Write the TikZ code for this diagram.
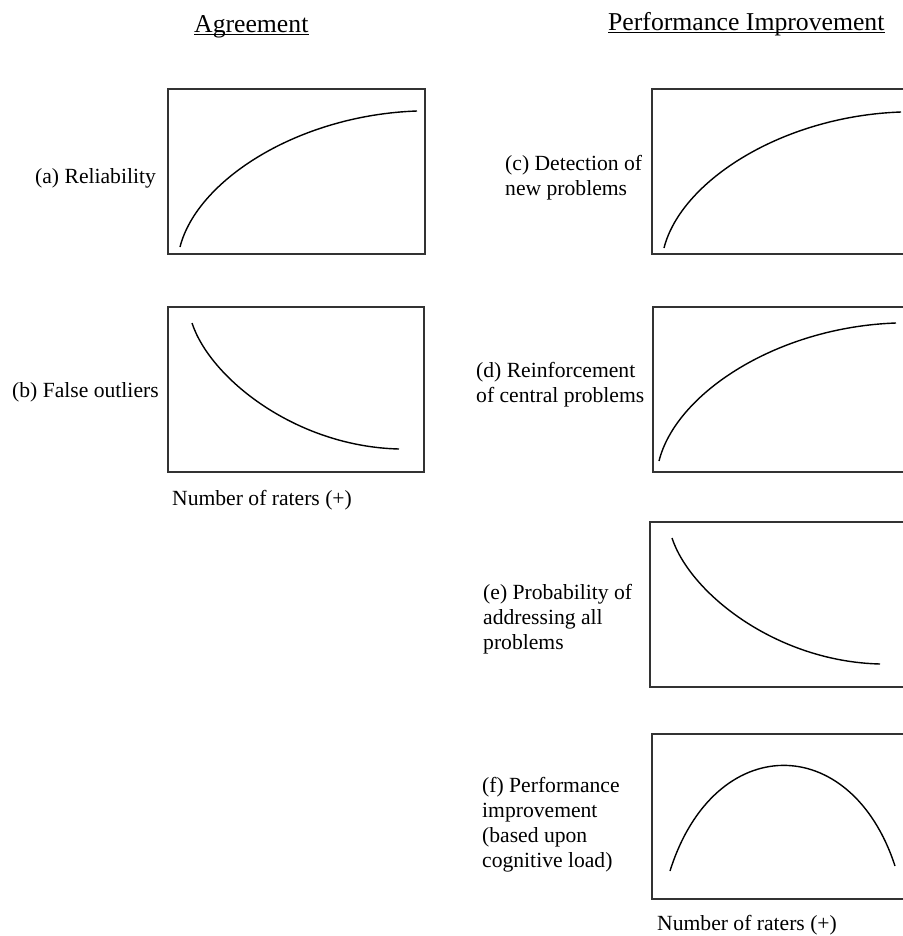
\documentclass[tikz,border=0pt]{standalone}
\usepackage{fontspec}
\setmainfont{Liberation Serif}
\begin{document}
\begin{tikzpicture}[x=1bp,y=-1bp,
  lbl/.style={inner sep=0pt, anchor=base west, font=\fontsize{21.7}{24.8}\selectfont, align=left},
  hdr/.style={inner sep=0pt, anchor=base west, font=\fontsize{25.8}{30}\selectfont},
  frame/.style={draw=black!80, line width=1.5bp},
  curve/.style={draw=black, line width=1.4bp},
  uline/.style={draw=black, line width=1.2bp}]
\clip (0,0) rectangle (903,936);
\fill[white] (0,0) rectangle (903,936);

% headers
\node[hdr] (h1) at (194,32) {Agreement};
\node[hdr] (h2) at (608,30) {Performance Improvement};
\draw[uline] ([yshift=-2.2bp]h1.base west) -- ([yshift=-2.2bp]h1.base east);
\draw[uline] ([yshift=-2.5bp]h2.base west) -- ([yshift=-2.5bp]h2.base east);

% frames
\draw[frame] (168,89) rectangle (425,254);
\draw[frame] (168,307) rectangle (424,472);
\draw[frame] (652,89) rectangle (912,254);
\draw[frame] (653,307) rectangle (912,472);
\draw[frame] (650,522) rectangle (912,687);
\draw[frame] (652,734) rectangle (912,899);

% curves
\draw[curve] (180,247) .. controls (197,180) and (298.5,115.1) .. (417,111);
\draw[curve] (664,248) .. controls (681,181) and (782.5,116.1) .. (901,112);
\draw[curve] (659,461) .. controls (676,393) and (777.5,327.1) .. (896,323);
\draw[curve] (192,323) .. controls (210,378) and (295.5,446.5) .. (399,449);
\draw[curve] (672,538) .. controls (690,593) and (776,661.5) .. (880,664);
\draw[curve] (670,871) .. controls (714,731) and (851,731) .. (895,866);

% labels (multi-line nodes: base is the last line)
\node[lbl] (la) at (35,183) {(a) Reliability};
\node[lbl] (lb) at (12,397) {(b) False outliers};
\node[lbl] (lc) at (505,195) {(c) Detection of\\new problems};
\node[lbl] (ld) at (476,402) {(d) Reinforcement\\of central problems};
\node[lbl] (le) at (483,649) {(e) Probability of\\addressing all\\problems};
\node[lbl] (lf) at (482,867) {(f) Performance\\improvement\\(based upon\\cognitive load)};
\node[lbl] (x1) at (172,505) {Number of raters (+)};
\node[lbl] (x2) at (657,930) {Number of raters (+)};
\end{tikzpicture}
\end{document}
